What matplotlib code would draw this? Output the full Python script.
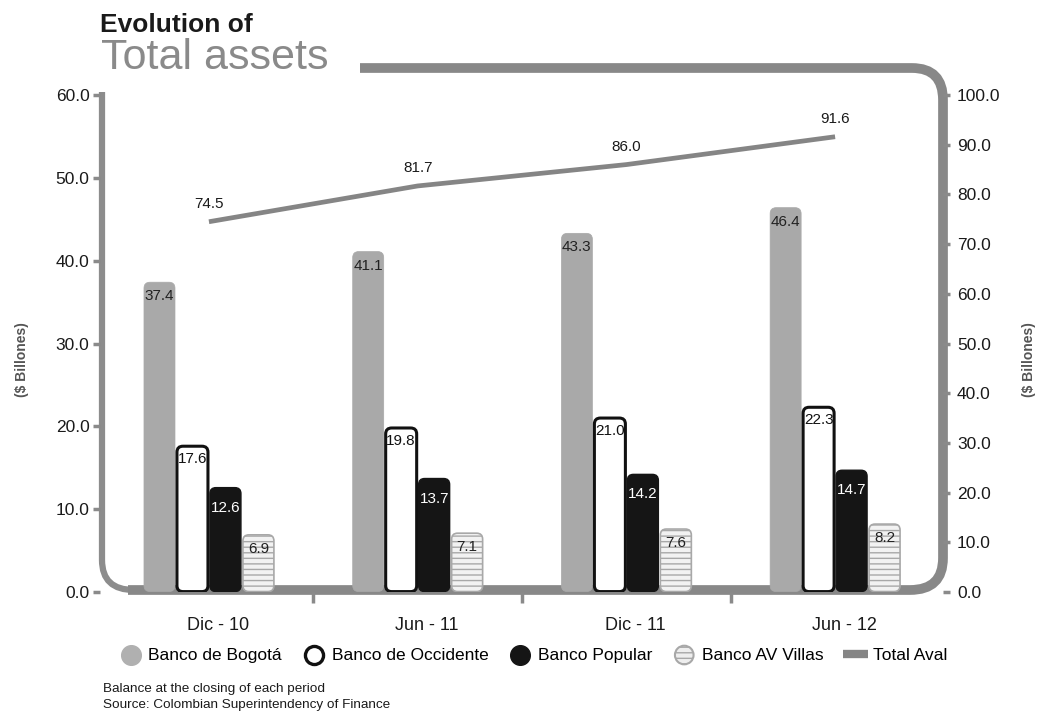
import numpy as np
import matplotlib
matplotlib.use("Agg")
import matplotlib.pyplot as plt
from matplotlib.patches import FancyBboxPatch, PathPatch
from matplotlib.path import Path
from matplotlib.lines import Line2D

# ---------------- data ----------------
periods = ["Dic - 10", "Jun - 11", "Dic - 11", "Jun - 12"]
bogota = [37.4, 41.1, 43.3, 46.4]
occidente = [17.6, 19.8, 21.0, 22.3]
popular = [12.6, 13.7, 14.2, 14.7]
av_villas = [6.9, 7.1, 7.6, 8.2]
total_aval = [74.5, 81.7, 86.0, 91.6]
left_ticks = [0, 10, 20, 30, 40, 50, 60]
right_ticks = [0, 10, 20, 30, 40, 50, 60, 70, 80, 90, 100]
series_names = ["Banco de Bogotá", "Banco de Occidente", "Banco Popular",
                "Banco AV Villas", "Total Aval"]

plt.rcParams['font.family'] = ['Liberation Sans', 'DejaVu Sans']

W, H = 1039, 727
fig = plt.figure(figsize=(W / 100, H / 100), dpi=100)

def fx(px):
    return px / W

def fy(py):
    return 1 - py / H

# axes placement (pixels from top-left)
ax_l, ax_r, ax_t, ax_b = 100, 943, 95, 592
ax = fig.add_axes([fx(ax_l), fy(ax_b), fx(ax_r - ax_l), (ax_b - ax_t) / H])
ax.set_xlim(-0.522, 3.517)
ax.set_ylim(0, 60)
ax2 = ax.twinx()
ax2.set_ylim(0, 100)

for a in (ax, ax2):
    for s in a.spines.values():
        s.set_visible(False)
    a.patch.set_visible(False)

frame_col = "#888888"
tick_kw = dict(direction="out", length=5, width=2.5, color="#8a8a8a",
               labelsize=12.5, labelcolor="#1a1a1a")
ax.set_yticks(left_ticks)
ax.set_yticklabels([f"{v:.1f}" for v in left_ticks])
ax.tick_params(axis="y", pad=2.5, **tick_kw)
ax2.set_yticks(right_ticks)
ax2.set_yticklabels([f"{v:.1f}" for v in right_ticks])
ax2.tick_params(axis="y", pad=5, **tick_kw)

x = np.arange(len(periods))
ax.set_xticks(x + 0.043)
ax.set_xticklabels(periods)
ax.tick_params(axis="x", length=0, pad=18, labelsize=13, labelcolor="#1a1a1a")
ax.set_xticks(x[:-1] + 0.5, minor=True)
ax.tick_params(axis="x", which="minor", length=8, width=2.5, color="#8a8a8a",
               direction="out", pad=0)

# frame: thin left spine with rounded corner, thick bottom/right/top band
lpts = [(102, 92), (102, 560), (102, 590), (134, 590), (145, 590)]
lcodes = [Path.MOVETO, Path.LINETO, Path.CURVE3, Path.CURVE3, Path.LINETO]
lpath = Path([(fx(a), fy(b)) for a, b in lpts], lcodes)
fig.patches.append(PathPatch(lpath, transform=fig.transFigure, facecolor="none",
                             edgecolor="#8c8c8c", lw=4.5, capstyle="butt",
                             joinstyle="round", zorder=-1))
pts = [(128, 590), (910, 590),
       (943, 590), (943, 558), (943, 100), (943, 68), (912, 68), (360, 68)]
codes = [Path.MOVETO, Path.LINETO,
         Path.CURVE3, Path.CURVE3, Path.LINETO, Path.CURVE3, Path.CURVE3,
         Path.LINETO]
path = Path([(fx(a), fy(b)) for a, b in pts], codes)
fig.patches.append(PathPatch(path, transform=fig.transFigure, facecolor="none",
                             edgecolor=frame_col, lw=7, capstyle="butt",
                             joinstyle="round", zorder=-1))

# bars
w = 0.158
fig.canvas.draw()
p0 = ax.transData.transform((0, 0))
p1 = ax.transData.transform((1, 1))
aspect = (p1[0] - p0[0]) / (p1[1] - p0[1])
r = 6 / (p1[0] - p0[0])

styles = [
    dict(fc="#a9a9a9", ec="#a9a9a9", lw=0.5, hatch=None),
    dict(fc="white", ec="#111111", lw=2.2, hatch=None),
    dict(fc="#151515", ec="#151515", lw=1.0, hatch=None),
    dict(fc="#f2f2f2", ec="#a8a8a8", lw=1.2, hatch="---"),
]
label_cols = ["#222222", "#111111", "white", "#222222"]
label_off = [-14, -13, -20, -14]
all_series = [bogota, occidente, popular, av_villas]
offsets = [-1.5, -0.5, 0.5, 1.5]

for vals, st, off, lc, lo in zip(all_series, styles, offsets, label_cols, label_off):
    bars = ax.bar(x + off * w, vals, width=w * 0.94, color="none", edgecolor="none")
    for rect, v in zip(bars, vals):
        rect.set_visible(False)
        bx, by = rect.get_x(), rect.get_y()
        bw, bh = rect.get_width(), rect.get_height()
        fb = FancyBboxPatch((bx, by + 0.05), bw, bh - 0.05,
                            boxstyle=f"round,pad=0,rounding_size={r}",
                            mutation_aspect=aspect, facecolor=st["fc"],
                            edgecolor=st["ec"], lw=st["lw"], hatch=st["hatch"],
                            zorder=3)
        ax.add_patch(fb)
        ax.annotate(f"{v:.1f}", (bx + bw / 2, v), xytext=(0, lo * 0.72),
                    textcoords="offset points", ha="center", va="center",
                    fontsize=11, color=lc, zorder=5)

# total line on right axis
ax2.plot(x, total_aval, color="#858585", lw=3.4, solid_capstyle="butt", zorder=4)
for xi, v in zip(x, total_aval):
    ax2.annotate(f"{v:.1f}", (xi, v), xytext=(0, 13), textcoords="offset points",
                 ha="center", va="center", fontsize=11, color="#1a1a1a")

# titles
fig.text(fx(100), fy(32), "Evolution of", fontsize=19, fontweight="bold",
         color="#1a1a1a", ha="left", va="baseline")
fig.text(fx(101), fy(69), "Total assets", fontsize=31, color="#8a8a8a",
         ha="left", va="baseline")

# side labels
fig.text(fx(22), fy(360), "($ Billones)", rotation=90, fontsize=10,
         fontweight="bold", color="#555555", ha="center", va="center")
fig.text(fx(1029), fy(360), "($ Billones)", rotation=90, fontsize=10,
         fontweight="bold", color="#555555", ha="center", va="center")

# legend
h1 = ax.scatter([], [], s=200, marker="o", facecolor="#b0b0b0", edgecolor="#b0b0b0")
h2 = ax.scatter([], [], s=170, marker="o", facecolor="white", edgecolor="#111111",
                linewidths=2.4)
h3 = ax.scatter([], [], s=200, marker="o", facecolor="#151515", edgecolor="#151515")
h4 = ax.scatter([], [], s=180, marker="o", facecolor="#eeeeee", edgecolor="#a8a8a8",
                linewidths=1.5, hatch="---")
h5 = Line2D([], [], color="#858585", lw=6, solid_capstyle="butt")
fig.legend([h1, h2, h3, h4, h5], series_names, loc="center",
           bbox_to_anchor=(fx(533), fy(655)), ncol=5, frameon=False,
           fontsize=12.5, handletextpad=0.3, columnspacing=1.15, scatterpoints=1,
           handlelength=1.4)

# footnotes
fig.text(fx(103), fy(692), "Balance at the closing of each period", fontsize=9.7,
         color="#1a1a1a", ha="left", va="baseline")
fig.text(fx(103), fy(708), "Source: Colombian Superintendency of Finance",
         fontsize=9.7, color="#1a1a1a", ha="left", va="baseline")

fig.savefig("out.png", dpi=100)
